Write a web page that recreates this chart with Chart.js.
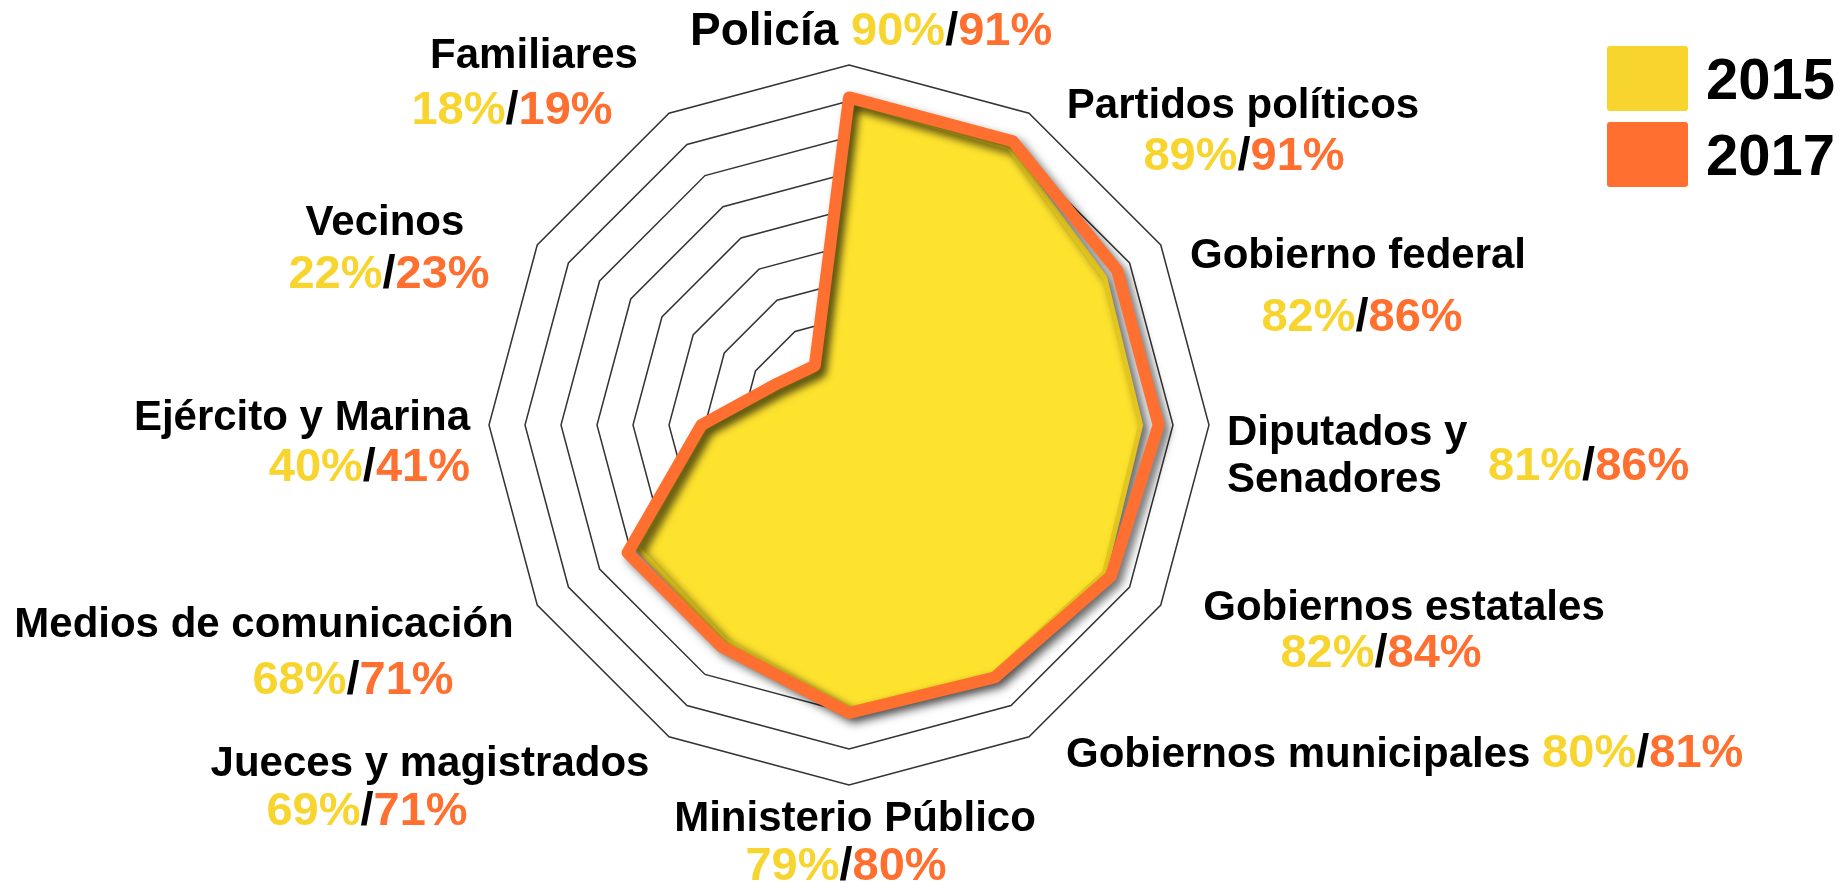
<!DOCTYPE html>
<html lang="es">
<head>
  <meta charset="UTF-8">
  <title>Confianza en instituciones 2015 / 2017</title>
  <script src="https://cdn.jsdelivr.net/npm/chart.js"></script>
  <style>
    html, body { margin: 0; padding: 0; background: #fff; }
    #wrap { position: relative; width: 1841px; height: 883px; }
  </style>
</head>
<body>
  <div id="wrap"><canvas id="radar"></canvas></div>

  <script>
    // data
    const categories = ['Policía', 'Partidos políticos', 'Gobierno federal', ['Diputados y', 'Senadores'],
      'Gobiernos estatales', 'Gobiernos municipales', 'Ministerio Público', 'Jueces y magistrados',
      'Medios de comunicación', 'Ejército y Marina', 'Vecinos', 'Familiares'];
    const values2015 = [90, 89, 82, 81, 82, 80, 79, 69, 68, 40, 22, 18];
    const values2017 = [91, 91, 86, 86, 84, 81, 80, 71, 71, 41, 23, 19];
    const seriesNames = ['2015', '2017'];

    const YELLOW = '#F7D52E';
    const FILL_YELLOW = '#FDE22E';
    const ORANGE = '#FF6F2F';
    const FONT = '"Liberation Sans", Arial, sans-serif';

    // where each category label sits (name block + percentages)
    const labelLayout = [
      { x: 690, y: 45, align: 'left', size: 46, pct: 'inline' },
      { x: 1243, y: 118, align: 'center', px: 1244, py: 170, palign: 'center' },
      { x: 1358, y: 268, align: 'center', px: 1362, py: 331, palign: 'center' },
      { x: 1227, y: 445, align: 'left', px: 1488, py: 480, palign: 'left' },
      { x: 1404, y: 620, align: 'center', px: 1381, py: 667, palign: 'center' },
      { x: 1066, y: 767, align: 'left', pct: 'inline' },
      { x: 855, y: 831, align: 'center', px: 846, py: 880, palign: 'center' },
      { x: 430, y: 776, align: 'center', px: 367, py: 825, palign: 'center' },
      { x: 264, y: 637, align: 'center', px: 353, py: 694, palign: 'center' },
      { x: 470, y: 430, align: 'right', px: 470, py: 481, palign: 'right' },
      { x: 385, y: 235, align: 'center', px: 389, py: 288, palign: 'center' },
      { x: 534, y: 68, align: 'center', px: 512, py: 124, palign: 'center' }
    ];

    // drop shadow under the polygons
    const shadowPlugin = {
      id: 'shadow',
      beforeDatasetsDraw(chart) {
        const ctx = chart.ctx;
        ctx.save();
        ctx.shadowColor = 'rgba(0,0,0,0.55)';
        ctx.shadowBlur = 8;
        ctx.shadowOffsetX = 5;
        ctx.shadowOffsetY = 5;
      },
      afterDatasetsDraw(chart) { chart.ctx.restore(); }
    };

    // draws "xx%/yy%" in three colours
    function drawPct(ctx, i, x, y, align, size) {
      ctx.font = `bold ${size}px ${FONT}`;
      const parts = [[values2015[i] + '%', YELLOW], ['/', '#000'], [values2017[i] + '%', ORANGE]];
      const total = parts.reduce((s, p) => s + ctx.measureText(p[0]).width, 0);
      let cx = align === 'center' ? x - total / 2 : align === 'right' ? x - total : x;
      ctx.textAlign = 'left';
      parts.forEach(([t, c]) => {
        ctx.fillStyle = c;
        ctx.fillText(t, cx, y);
        cx += ctx.measureText(t).width;
      });
    }

    const labelPlugin = {
      id: 'catLabels',
      afterDraw(chart) {
        const ctx = chart.ctx;
        ctx.save();
        ctx.textBaseline = 'alphabetic';
        categories.forEach((name, i) => {
          const L = labelLayout[i];
          const size = L.size || 42;
          const lines = Array.isArray(name) ? name : [name];
          ctx.font = `bold ${size}px ${FONT}`;
          ctx.fillStyle = '#000';
          ctx.textAlign = L.align;
          lines.forEach((ln, k) => ctx.fillText(ln, L.x, L.y + k * 47));
          if (L.pct === 'inline') {
            const w = ctx.measureText(lines[0] + ' ').width;
            drawPct(ctx, i, L.x + w, L.y, 'left', 47);
          } else {
            drawPct(ctx, i, L.px, L.py, L.palign, 47);
          }
        });

        // legend
        const colors = [YELLOW, ORANGE];
        seriesNames.forEach((s, k) => {
          const top = 46 + k * 76;
          ctx.fillStyle = colors[k];
          ctx.beginPath();
          ctx.roundRect(1607, top, 81, 65, 3);
          ctx.fill();
          ctx.fillStyle = '#000';
          ctx.font = `bold 58px ${FONT}`;
          ctx.textAlign = 'left';
          ctx.fillText(s, 1706, top + 53);
        });
        ctx.restore();
      }
    };

    new Chart(document.getElementById('radar'), {
      type: 'radar',
      data: {
        labels: categories,
        datasets: [
          {
            label: seriesNames[0], data: values2015, order: 2,
            backgroundColor: FILL_YELLOW, borderColor: '#E3C51F', borderWidth: 5,
            fill: true, pointRadius: 0
          },
          {
            label: seriesNames[1], data: values2017, order: 1,
            borderColor: ORANGE, borderWidth: 12, borderJoinStyle: 'round',
            fill: false, pointRadius: 0, backgroundColor: 'transparent'
          }
        ]
      },
      options: {
        responsive: true,
        maintainAspectRatio: false,
        animation: false,
        layout: { padding: { top: 65, bottom: 98, left: 489, right: 632 } },
        plugins: { legend: { display: false }, tooltip: { enabled: false } },
        scales: {
          r: {
            min: 0, max: 100,
            ticks: { stepSize: 10, display: false },
            grid: { circular: false, color: '#333', lineWidth: 1.5 },
            angleLines: { display: false },
            pointLabels: { display: false }
          }
        }
      },
      plugins: [shadowPlugin, labelPlugin]
    });
  </script>
</body>
</html>
